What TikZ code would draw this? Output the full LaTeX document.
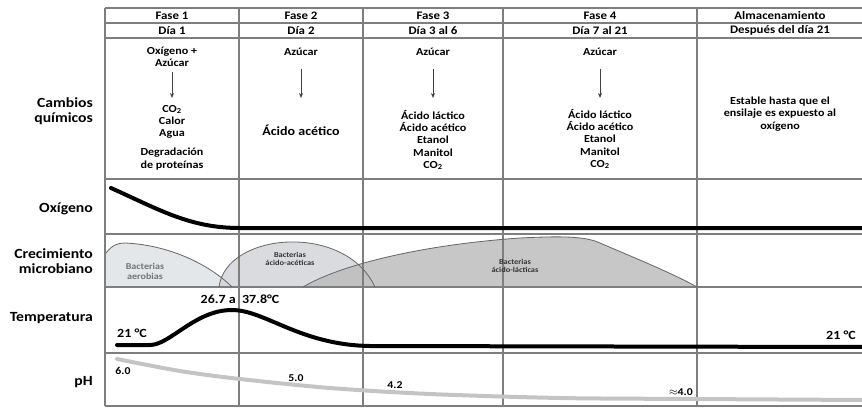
\documentclass[tikz,border=0pt]{standalone}
\usepackage{fontspec}
\setmainfont{Carlito}[FakeStretch=1.12]
\usetikzlibrary{arrows.meta}
\definecolor{gridgray}{HTML}{7E7E7E}
\definecolor{aerofill}{HTML}{E4E7EA}
\definecolor{acetfill}{HTML}{D3D5D8}
\definecolor{lactfill}{HTML}{BDBDBD}
\definecolor{phgray}{HTML}{C4C4C4}

\begin{document}
\begin{tikzpicture}[
  x=1pt, y=-1pt,
  >=Stealth,
  grid/.style={draw=gridgray, line width=1.1pt},
  head/.style={font=\fontsize{11.5}{12}\selectfont\bfseries, inner sep=0pt},
  rowlabel/.style={anchor=east, align=right, inner sep=0pt,
    font=\fontsize{14}{15.5}\selectfont\bfseries},
  chem/.style={align=center, inner sep=0pt,
    font=\fontsize{10.8}{12.3}\selectfont\bfseries},
  react/.style={-{Stealth[length=5pt, width=4pt]}, line width=0.9pt, draw=black!75},
  curve/.style={line width=4pt, line cap=round},
  hump/.style={draw=gray!80!black, line width=0.8pt},
  bact/.style={align=center, inner sep=0pt, text=black!80,
    font=\fontsize{7.5}{8.5}\selectfont\bfseries},
  val/.style={inner sep=0pt, font=\fontsize{12.5}{14}\selectfont\bfseries},
  phval/.style={inner sep=0pt, font=\fontsize{10.5}{12}\selectfont\bfseries},
]
\useasboundingbox (0,0) rectangle (862,408);

% Microbial growth areas
\fill[aerofill] (106,287) -- (106,253) .. controls (112,245) and (118,243) .. (125,243)
  .. controls (170,245) and (210,265) .. (232,287) -- cycle;
\fill[acetfill, fill opacity=0.85] (219,287) .. controls (226,232) and (345,222) .. (375,287) -- cycle;
\fill[lactfill, fill opacity=0.85] (303,287) .. controls (340,265) and (420,245) .. (520,238)
  .. controls (560,236) and (585,236) .. (600,243) .. controls (630,256) and (670,272) .. (697,287) -- cycle;

% Table grid
\draw[grid] (105,8) -- (862,8);
\draw[grid] (105,23) -- (862,23);
\draw[grid] (105,38) -- (862,38);
\draw[grid] (105,179) -- (862,179);
\draw[grid] (105,234) -- (862,234);
\draw[grid] (105,287) -- (862,287);
\draw[grid] (105,353) -- (862,353);
\draw[grid] (105,406) -- (862,406);
\draw[grid] (105,8) -- (105,406);
\draw[grid] (239,8) -- (239,406);
\draw[grid] (363,8) -- (363,406);
\draw[grid] (503,8) -- (503,406);
\draw[grid] (697,8) -- (697,406);

% Hump outlines
\draw[hump] (106,253) .. controls (112,245) and (118,243) .. (125,243)
  .. controls (170,245) and (210,265) .. (232,287);
\draw[hump] (219,287) .. controls (226,232) and (345,222) .. (375,287);
\draw[hump] (303,287) .. controls (340,265) and (420,245) .. (520,238)
  .. controls (560,236) and (585,236) .. (600,243) .. controls (630,256) and (670,272) .. (697,287);

% Header
\node[head] (f1) at (172,15.5)   {Fase 1};
\node[head] (f2) at (301,15.5)   {Fase 2};
\node[head] (f3) at (433,15.5)   {Fase 3};
\node[head] (f4) at (600,15.5)   {Fase 4};
\node[head] (f5) at (780,15.5)   {Almacenamiento};
\node[head] (d1) at (172,30.5)   {Día 1};
\node[head] (d2) at (301,30.5)   {Día 2};
\node[head] (d3) at (433,30.5)   {Día 3 al 6};
\node[head] (d4) at (600,30.5)   {Día 7 al 21};
\node[head] (d5) at (780,30.5)   {Después del día 21};

% Row labels
\node[rowlabel] (lchem) at (93,111)  {Cambios\\químicos};
\node[rowlabel] (loxy)  at (93,209)  {Oxígeno};
\node[rowlabel] (lmic)  at (93,261)  {Crecimiento\\microbiano};
\node[rowlabel] (ltemp) at (93,318)  {Temperatura};
\node[rowlabel] (lph)   at (93,382)  {pH};

% Chemical changes
\node[chem] (in1)  at (172,57)  {Oxígeno +\\Azúcar};
\node[chem] (out1) at (172,122) {CO\textsubscript{2}\\Calor\\Agua};
\node[chem] (deg1) at (172,159) {Degradación\\de proteínas};
\node[chem] (in2)  at (301,52)  {Azúcar};
\node[chem, font=\fontsize{12.5}{14}\selectfont\bfseries] (out2) at (301,130) {Ácido acético};
\node[chem] (in3)  at (433,52)  {Azúcar};
\node[chem] (out3) at (433,140) {Ácido láctico\\Ácido acético\\Etanol\\Manitol\\CO\textsubscript{2}};
\node[chem] (in4)  at (600,52)  {Azúcar};
\node[chem] (out4) at (600,139) {Ácido láctico\\Ácido acético\\Etanol\\Manitol\\CO\textsubscript{2}};
\node[chem] (st5)  at (780,114) {Estable hasta que el\\ensilaje es expuesto al\\oxígeno};

\coordinate (a1s) at (172,72);  \coordinate (a1e) at (172,98);
\coordinate (a2s) at (301,69);  \coordinate (a2e) at (301,98);
\coordinate (a3s) at (433,69);  \coordinate (a3e) at (433,98);
\coordinate (a4s) at (600,69);  \coordinate (a4e) at (600,98);
\draw[react] (a1s) -- (a1e);
\draw[react] (a2s) -- (a2e);
\draw[react] (a3s) -- (a3e);
\draw[react] (a4s) -- (a4e);

% Bacteria labels
\node[bact, text=black!55, font=\fontsize{9}{10}\selectfont\bfseries] (baer) at (145,271) {Bacterias\\aerobias};
\node[bact] (bace) at (290,259) {Bacterias\\ácido-acéticas};
\node[bact] (blac) at (515,266) {Bacterias\\ácido-lácticas};

% Oxygen
\draw[curve] (111,188) .. controls (160,210) and (190,228) .. (240,228) -- (866,228);

% Temperature
\draw[curve] (117,345) -- (150,345) .. controls (170,345) and (195,310) .. (232,310)
  .. controls (265,310) and (300,345) .. (370,346) -- (866,347);
\node[val] (t21a) at (132,333)  {21 °C};
\node[val] (tmax) at (240,299)  {26.7 a \ 37.8°C};
\node[val] (t21b) at (841,335)  {21 °C};

% pH
\draw[curve, draw=phgray] plot[smooth] coordinates {(117,359) (180,371) (240,379) (330,388)
  (430,394) (560,398) (697,399) (866,400)};
\node[phval] (ph60) at (123,371) {6.0};
\node[phval] (ph50) at (296,378) {5.0};
\node[phval] (ph42) at (395,385) {4.2};
\node[phval] (ph40) at (681,392) {$\approx$4.0};

\end{tikzpicture}
\end{document}
